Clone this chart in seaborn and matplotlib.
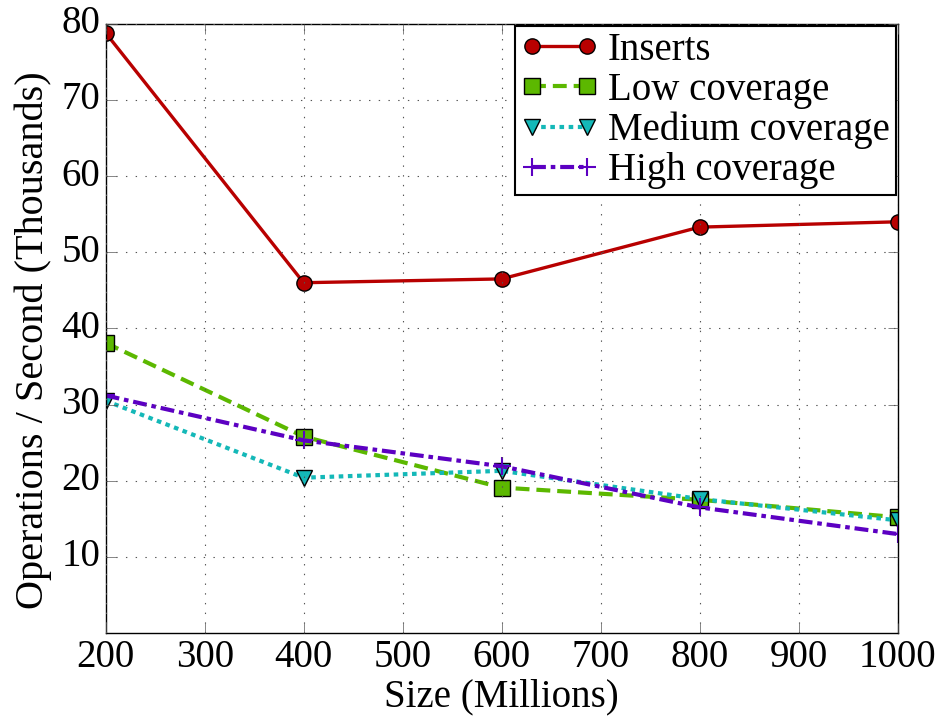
import matplotlib
matplotlib.use('Agg')
import matplotlib.pyplot as plt
import seaborn as sns
import pandas as pd

# data
sizes = [200, 400, 600, 800, 1000]
inserts = [78.8, 46.0, 46.5, 53.3, 54.0]
low_cov = [38.1, 25.8, 19.1, 17.5, 15.2]
medium_cov = [30.5, 20.4, 21.3, 17.6, 14.8]
high_cov = [31.2, 25.3, 21.9, 16.5, 13.0]

series_names = ['Inserts', 'Low coverage', 'Medium coverage', 'High coverage']
series_vals = [inserts, low_cov, medium_cov, high_cov]
colors = ['#b80000', '#5cb800', '#14b8b8', '#5c00c2']
markers = ['o', 's', 'v', '+']
# dash patterns in points (classic style does not scale dashes)
dash_styles = [None, (10, 5), (3.3, 3.3), (10, 3.5, 3.3, 3.5)]

plt.style.use('classic')
plt.rcParams['font.family'] = ['Liberation Serif', 'DejaVu Serif']
plt.rcParams['font.size'] = 28

df = pd.concat([pd.DataFrame({'size': sizes, 'ops': v, 'series': n})
                for n, v in zip(series_names, series_vals)])

fig, ax = plt.subplots(figsize=(9.35, 7.21), dpi=100)
for name, color, mk, ds in zip(series_names, colors, markers, dash_styles):
    sub = df[df['series'] == name]
    is_plus = mk == '+'
    sns.lineplot(data=sub, x='size', y='ops', ax=ax, color=color, marker=mk,
                 linewidth=2.4 if name == 'Inserts' else 3,
                 markersize=13 if is_plus else 11,
                 markeredgecolor=color if is_plus else 'black',
                 markeredgewidth=1.5 if is_plus else 1,
                 label=name, legend=False)
    if ds is not None:
        ax.lines[-1].set_dashes(ds)

ax.set_xlim(200, 1000)
ax.set_ylim(0, 80)
ax.set_xticks(range(200, 1001, 100))
ax.set_yticks(range(10, 81, 10))
ax.grid(True, color='#555555', linewidth=0.8, dashes=(1, 6))
ax.tick_params(labelsize=28, length=7, color='#555555')
ax.set_xlabel('Size (Millions)', fontsize=28, labelpad=2)
ax.set_ylabel('Operations / Second (Thousands)', fontsize=29)
ax.yaxis.set_label_coords(-0.068, 0.48)

leg = ax.legend(loc='upper right', fontsize=28, handlelength=2.0,
                borderaxespad=0.05, labelspacing=0.08, borderpad=0.15,
                handletextpad=0.25, numpoints=2)
leg.get_frame().set_edgecolor('black')
leg.get_frame().set_linewidth(1.5)

plt.subplots_adjust(left=0.113, right=0.96, top=0.967, bottom=0.122)
fig.savefig('out.png', dpi=100)
